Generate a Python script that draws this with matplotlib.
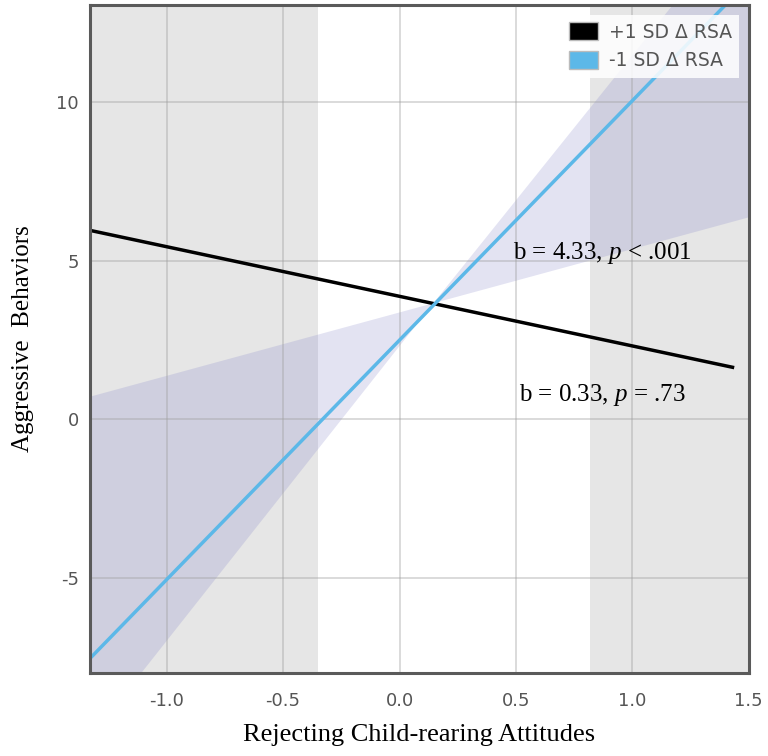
import matplotlib
matplotlib.use("Agg")
import matplotlib.pyplot as plt
from matplotlib.patches import Patch
import numpy as np

# simple slopes
x_line = [-1.33, 1.43]
y_high = [5.96, 1.64]        # +1 SD delta RSA
y_low = [-7.55, 13.3]        # -1 SD delta RSA (clipped at top)

# confidence band for the -1 SD line (two bounding lines)
x_band = [-1.33, 0.145, 1.5]
band_a = [0.71, 3.66, 6.37]
band_b = [-10.06, 3.66, 16.06]

# regions of significance
sig_regions = [(-1.33, -0.35), (0.82, 1.5)]

x_ticks = [-1.0, -0.5, 0.0, 0.5, 1.0, 1.5]
x_tick_labels = ["-1.0", "-0.5", "0.0", "0.5", "1.0", "1.5"]
y_ticks = [-5, 0, 5, 10]
y_tick_labels = ["-5", "0", "5", "10"]

legend_labels = ["+1 SD \u0394 RSA", "-1 SD \u0394 RSA"]
annot_text = ["b = 4.33, $p$ < .001", "b = 0.33, $p$ = .73"]
annot_pos = [(0.87, 5.24), (0.87, 0.76)]

plt.rcParams['mathtext.fontset'] = 'custom'
plt.rcParams['mathtext.rm'] = 'Liberation Serif'
plt.rcParams['mathtext.it'] = 'Liberation Serif:italic'

blue = '#5cb8e8'
tick_col = '#555555'

fig = plt.figure(figsize=(7.68, 7.56), dpi=100)
ax = fig.add_axes([0.117, 0.110, 0.858, 0.883])

for lo, hi in sig_regions:
    ax.axvspan(lo, hi, color='#e6e6e6', lw=0, zorder=0)

ax.fill_between(x_band, np.minimum(band_a, band_b), np.maximum(band_a, band_b),
                color='#8080c8', alpha=0.22, lw=0, zorder=1)

ax.plot(x_line, y_high, color='black', lw=2.5, zorder=3)
ax.plot(x_line, y_low, color=blue, lw=2.5, zorder=3)

for txt, (tx, ty) in zip(annot_text, annot_pos):
    ax.text(tx, ty, txt, fontsize=18, family='Liberation Serif',
            ha='center', va='center', zorder=4)

ax.set_xlim(-1.33, 1.5)
ax.set_ylim(-8, 13.06)
ax.set_xticks(x_ticks)
ax.set_xticklabels(x_tick_labels)
ax.set_yticks(y_ticks)
ax.set_yticklabels(y_tick_labels)
ax.grid(True, color='#a0a0a0', alpha=0.45, lw=1.2, zorder=2)
ax.set_axisbelow(False)
ax.tick_params(length=0, labelsize=13, labelcolor=tick_col)
ax.tick_params(axis='x', pad=14)
ax.tick_params(axis='y', pad=8)
for s in ax.spines.values():
    s.set_color('#5a5a5a')
    s.set_linewidth(2.2)
    s.set_zorder(5)

ax.set_xlabel("Rejecting Child-rearing Attitudes", family='Liberation Serif',
              fontsize=19, labelpad=10)
ax.set_ylabel("Aggressive  Behaviors", family='Liberation Serif',
              fontsize=18, labelpad=16)

handles = [Patch(facecolor='black', edgecolor='#bbbbbb'),
           Patch(facecolor=blue, edgecolor='#bbbbbb')]
leg = ax.legend(handles, legend_labels, loc='upper right', fontsize=13.5,
                frameon=True, fancybox=False, framealpha=0.85,
                edgecolor='none', handlelength=1.5, handleheight=1.1,
                labelcolor=tick_col, borderaxespad=0.5, borderpad=0.4,
                handletextpad=0.6)
leg.set_zorder(6)

fig.savefig('out.png', dpi=100)
